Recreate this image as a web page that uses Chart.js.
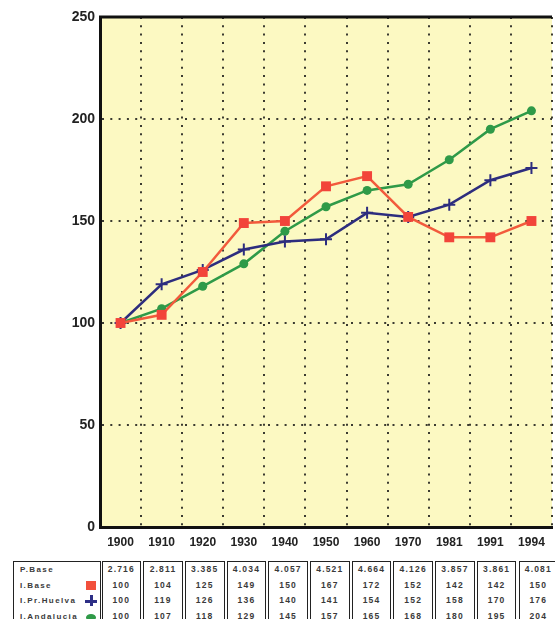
<!DOCTYPE html>
<html lang="es">
<head>
    <meta charset="UTF-8">
    <title>Indices de poblacion</title>
    <script src="https://cdn.jsdelivr.net/npm/chart.js"></script>
    <style>
        body { margin: 0; width: 555px; height: 619px; overflow: hidden; background: #fff; position: relative; font-family: "Liberation Sans", Arial, sans-serif; }
        #chartBox { position: absolute; left: 0; top: 0; width: 560px; height: 552px; }
        .col { position: absolute; top: 561px; height: 70px; border: 1px solid #222; border-bottom: none; box-sizing: border-box;
               font-weight: bold; font-size: 8.5px; color: #3a3a3a; letter-spacing: 1.2px; }
        .col div { height: 15.5px; line-height: 15.5px; white-space: nowrap; }
        .lab div { padding-left: 6px; position: relative; font-size: 8px; letter-spacing: 1.4px; }
        .val div { text-align: center; }
        .mk { position: absolute; right: 4px; top: 3px; width: 10px; height: 9px; }
        .mk.sq { background: #f2503c; }
        .mk.cr::before, .mk.cr::after { content: ""; position: absolute; background: #2d2f86; }
        .mk.cr::before { left: 4px; top: -1px; width: 3px; height: 11px; }
        .mk.cr::after { left: -1px; top: 4px; width: 12px; height: 3px; }
        .mk.el { background: #2f9a48; border-radius: 50%; height: 7px; top: 5px; }
    </style>
</head>
<body>
    <div id="chartBox"><canvas id="indexChart"></canvas></div>
    <div id="table"></div>

    <script>
        const years = ['1900', '1910', '1920', '1930', '1940', '1950', '1960', '1970', '1981', '1991', '1994'];
        const pBase = ['2.716', '2.811', '3.385', '4.034', '4.057', '4.521', '4.664', '4.126', '3.857', '3.861', '4.081'];
        const iBase = [100, 104, 125, 149, 150, 167, 172, 152, 142, 142, 150];
        const iHuelva = [100, 119, 126, 136, 140, 141, 154, 152, 158, 170, 176];
        const iAndalucia = [100, 107, 118, 129, 145, 157, 165, 168, 180, 195, 204];
        const yTicks = [0, 50, 100, 150, 200, 250];

        const frame = {
            id: 'frame',
            beforeDraw(chart) {
                const a = chart.chartArea, ctx = chart.ctx;
                ctx.save();
                ctx.fillStyle = '#fcf9c2';
                ctx.fillRect(a.left, a.top, a.right - a.left, a.bottom - a.top);
                ctx.restore();
            },
            afterDatasetsDraw(chart) {
                const a = chart.chartArea, ctx = chart.ctx;
                ctx.save();
                ctx.strokeStyle = '#111';
                ctx.lineWidth = 3;
                ctx.beginPath();
                ctx.moveTo(a.left - 1, a.top);
                ctx.lineTo(a.right, a.top);
                ctx.stroke();
                ctx.restore();
            }
        };

        new Chart(document.getElementById('indexChart'), {
            type: 'line',
            data: {
                labels: years,
                datasets: [
                    {
                        label: 'I.Base', data: iBase,
                        borderColor: '#f25a3c', backgroundColor: '#f2443a', borderWidth: 2.5,
                        pointStyle: 'rect', pointRadius: 7, pointBorderWidth: 0
                    },
                    {
                        label: 'I.Pr.Huelva', data: iHuelva,
                        borderColor: '#2d2d7e', backgroundColor: '#2d2d7e', borderWidth: 2.5,
                        pointStyle: 'cross', pointRadius: 6, pointBorderWidth: 2
                    },
                    {
                        label: 'I.Andalucia', data: iAndalucia,
                        borderColor: '#2f9a48', backgroundColor: '#2f9a48', borderWidth: 2.5,
                        pointStyle: 'circle', pointRadius: 4.5, pointBorderWidth: 0
                    }
                ]
            },
            options: {
                responsive: true,
                maintainAspectRatio: false,
                animation: false,
                layout: { padding: { top: 17, left: 0, right: 0, bottom: 0 } },
                plugins: { legend: { display: false }, tooltip: { enabled: false } },
                elements: { line: { tension: 0 } },
                scales: {
                    x: {
                        offset: true,
                        grid: { offset: true, drawTicks: false, color: '#3b3b30', lineWidth: 2 },
                        border: { color: '#111', width: 3, dash: [2, 6.3] },
                        ticks: { padding: 8, color: '#222', font: { family: 'Liberation Sans', size: 12, weight: 'bold' } },
                        afterFit(scale) { scale.height = 25; }
                    },
                    y: {
                        min: 0, max: 250,
                        afterBuildTicks(scale) { scale.ticks = yTicks.map(v => ({ value: v })); },
                        grid: {
                            drawTicks: false, lineWidth: 2,
                            color: c => (c.tick && (c.tick.value === 0 || c.tick.value === 250)) ? 'rgba(0,0,0,0)' : '#3b3b30'
                        },
                        border: { color: '#111', width: 3, dash: [2, 6.3] },
                        ticks: { padding: 5, color: '#222', font: { family: 'Liberation Sans', size: 14, weight: 'bold' } },
                        afterFit(scale) { scale.width = 100; }
                    }
                }
            },
            plugins: [frame]
        });

        // table under the chart
        const table = document.getElementById('table');
        const rowNames = ['P.Base', 'I.Base', 'I.Pr.Huelva', 'I.Andalucia'];
        const marks = ['', 'sq', 'cr', 'el'];
        let html = '<div class="col lab" style="left:13px;width:88px">';
        rowNames.forEach((n, i) => {
            html += '<div>' + n + (marks[i] ? '<span class="mk ' + marks[i] + '"></span>' : '') + '</div>';
        });
        html += '</div>';
        const step = 41.7;
        years.forEach((y, k) => {
            const left = 100 + step * k + 1.5;
            html += '<div class="col val" style="left:' + left + 'px;width:' + (step - 2) + 'px">' +
                '<div>' + pBase[k] + '</div><div>' + iBase[k] + '</div><div>' + iHuelva[k] + '</div><div>' + iAndalucia[k] + '</div></div>';
        });
        table.innerHTML = html;
    </script>
</body>
</html>
